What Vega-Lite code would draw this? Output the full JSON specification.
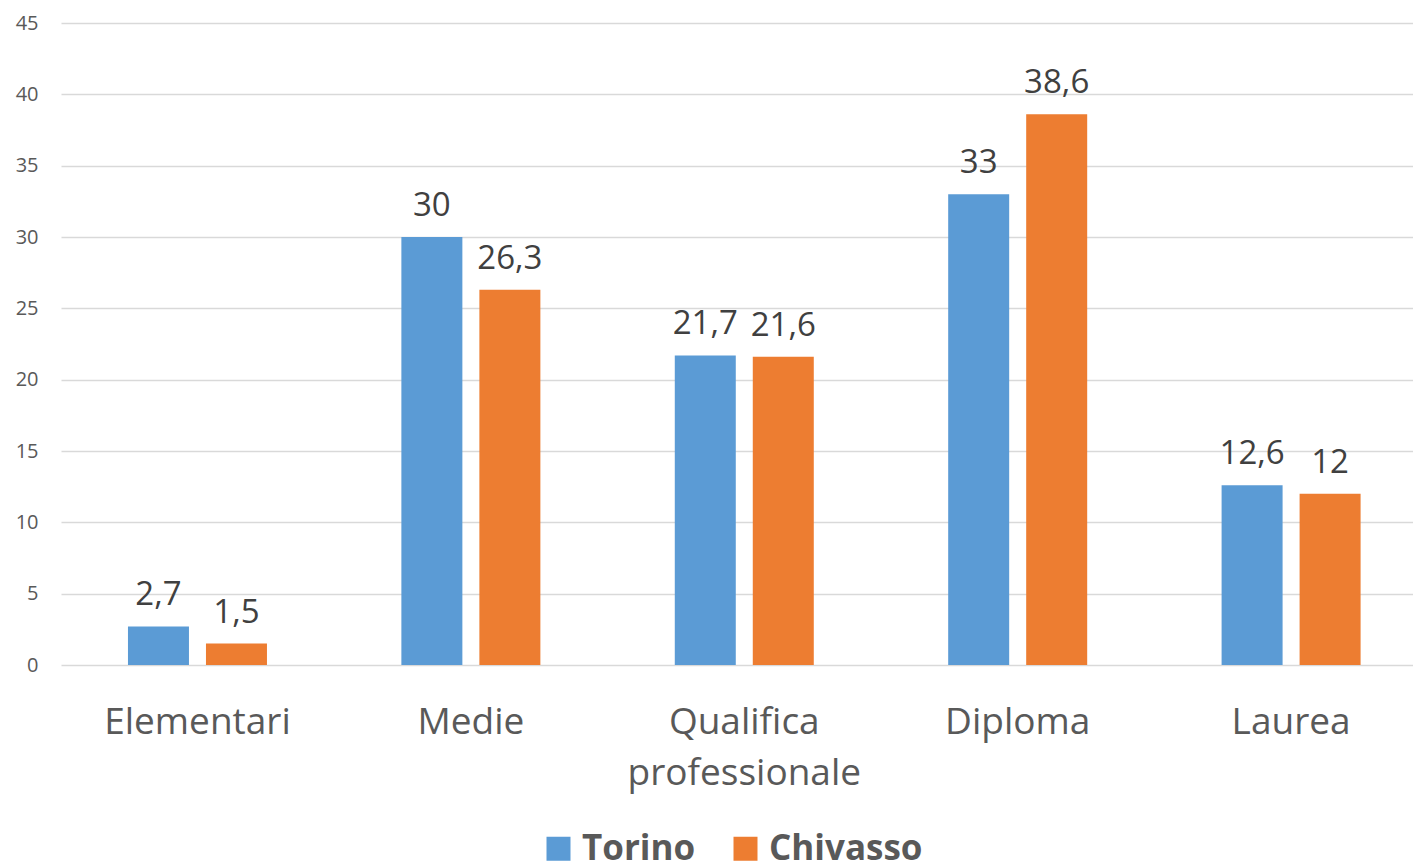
{
  "$schema": "https://vega.github.io/schema/vega-lite/v6.json",
  "width": 1352,
  "height": 642,
  "autosize": {"type": "none"},
  "padding": {"left": 61, "top": 23, "right": 0, "bottom": 200},
  "background": "white",
  "config": {
    "locale": {"number": {"decimal": ",", "thousands": ".", "grouping": [3], "currency": ["€", ""]}},
    "font": "Open Sans",
    "view": {"stroke": null}
  },
  "data": {
    "values": [
      {"livello": "Elementari", "citta": "Torino", "valore": 2.7},
      {"livello": "Elementari", "citta": "Chivasso", "valore": 1.5},
      {"livello": "Medie", "citta": "Torino", "valore": 30},
      {"livello": "Medie", "citta": "Chivasso", "valore": 26.3},
      {"livello": "Qualifica professionale", "citta": "Torino", "valore": 21.7},
      {"livello": "Qualifica professionale", "citta": "Chivasso", "valore": 21.6},
      {"livello": "Diploma", "citta": "Torino", "valore": 33},
      {"livello": "Diploma", "citta": "Chivasso", "valore": 38.6},
      {"livello": "Laurea", "citta": "Torino", "valore": 12.6},
      {"livello": "Laurea", "citta": "Chivasso", "valore": 12}
    ]
  },
  "encoding": {
    "x": {
      "field": "livello",
      "type": "nominal",
      "sort": ["Elementari", "Medie", "Qualifica professionale", "Diploma", "Laurea"],
      "scale": {"paddingInner": 0.4916, "paddingOuter": 0.2183, "align": 0.561},
      "axis": {
        "title": null,
        "domain": false,
        "ticks": false,
        "labelAngle": 0,
        "labelFontSize": 37,
        "labelColor": "#595959",
        "labelPadding": 39,
        "labelBaseline": "top",
        "labelExpr": "split(datum.label, ' ')",
        "labelLineHeight": 51,
        "labelLimit": 400
      }
    },
    "xOffset": {
      "field": "citta",
      "type": "nominal",
      "sort": ["Torino", "Chivasso"],
      "scale": {"paddingInner": 0.218, "paddingOuter": 0}
    },
    "y": {
      "field": "valore",
      "type": "quantitative",
      "scale": {"domain": [0, 45], "nice": false},
      "axis": {
        "title": null,
        "values": [0, 5, 10, 15, 20, 25, 30, 35, 40, 45],
        "grid": true,
        "gridColor": "#d9d9d9",
        "gridWidth": 1.5,
        "domain": false,
        "ticks": false,
        "labelFontSize": 20,
        "labelColor": "#595959",
        "labelPadding": 23
      }
    }
  },
  "layer": [
    {
      "mark": {"type": "bar"},
      "encoding": {
        "color": {
          "field": "citta",
          "type": "nominal",
          "scale": {"domain": ["Torino", "Chivasso"], "range": ["#5B9BD5", "#ED7D31"]},
          "legend": {
            "orient": "none",
            "legendX": 480,
            "legendY": 808,
            "direction": "horizontal",
            "title": null,
            "symbolType": "square",
            "symbolSize": 576,
            "symbolStrokeWidth": 0,
            "symbolOpacity": 1,
            "labelFontSize": 35,
            "labelFontWeight": "bold",
            "labelColor": "#595959",
            "labelOffset": 6,
            "labelLimit": 400,
            "columnPadding": 32,
            "padding": 0
          }
        }
      }
    },
    {
      "mark": {"type": "text", "dy": -21, "baseline": "alphabetic", "fontSize": 33, "color": "#404040"},
      "encoding": {
        "text": {"field": "valore", "type": "quantitative", "format": ""}
      }
    }
  ]
}
